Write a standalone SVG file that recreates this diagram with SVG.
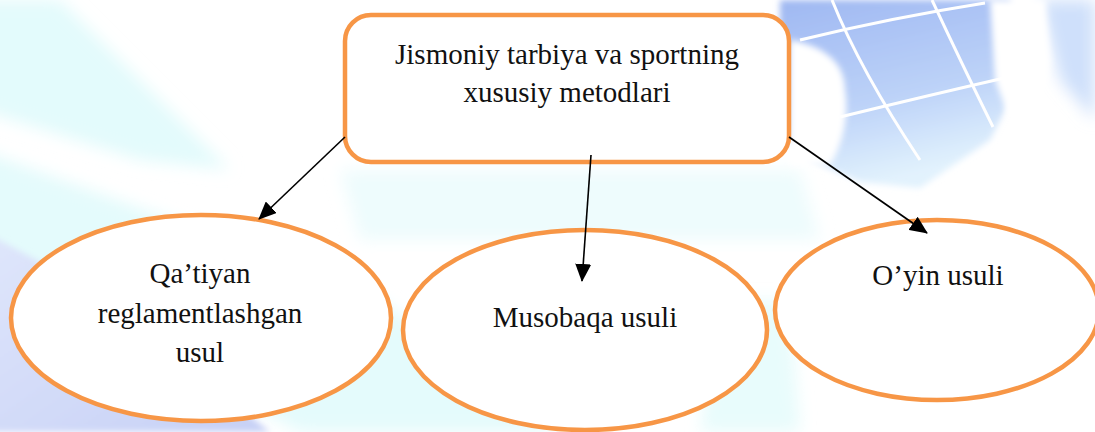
<svg xmlns="http://www.w3.org/2000/svg" width="1095" height="432" viewBox="0 0 1095 432">
<style>
.node{fill:#ffffff;stroke:#f79646;stroke-width:4.5}
.lbl{font-family:"Liberation Serif","Times New Roman","DejaVu Serif",serif;font-size:29px;fill:#111111;text-anchor:middle}
.conn{stroke:#000000;stroke-width:1.6;fill:none;marker-end:url(#arr)}
</style>
<defs>
<marker id="arr" markerUnits="userSpaceOnUse" markerWidth="18" markerHeight="16" viewBox="0 0 18 16" refX="17" refY="8" orient="auto">
<path d="M0,0 L18,8 L0,16 Z" fill="#000000"/>
</marker>
<filter id="blur" x="-20%" y="-20%" width="140%" height="140%"><feGaussianBlur stdDeviation="8"/></filter>
<filter id="blur2" x="-20%" y="-20%" width="140%" height="140%"><feGaussianBlur stdDeviation="3"/></filter>
<linearGradient id="lav" x1="0" y1="0" x2="1" y2="1">
<stop offset="0" stop-color="#dfe6fb"/>
<stop offset="1" stop-color="#c6d0f6"/>
</linearGradient>
<linearGradient id="globe" x1="0" y1="0" x2="0.3" y2="1">
<stop offset="0" stop-color="#9fb8f2"/>
<stop offset="0.6" stop-color="#bcd2f8"/>
<stop offset="1" stop-color="#e2f2fd"/>
</linearGradient>
</defs>
<g id="background">
<rect x="0" y="0" width="1095" height="432" fill="#ffffff"/>
<path d="M-20,0 L60,0 L230,170 L140,160 L-20,110 Z" fill="#e3fbfc" filter="url(#blur)"/>
<path d="M-20,150 L200,230 L380,300 L560,432 L300,432 L-20,260 Z" fill="#e4fbfc" filter="url(#blur)"/>
<path d="M340,170 L800,170 L820,240 L360,240 Z" fill="#eefcfd" filter="url(#blur)"/>
<path d="M-10,235 L110,300 L270,432 L-10,432 Z" fill="url(#lav)" filter="url(#blur2)"/>
<path d="M720,300 L790,300 L800,432 L700,432 Z" fill="#e8fcfc" filter="url(#blur)"/>
<path d="M780,0 L1010,0 L1020,80 L990,140 L920,188 L860,182 L810,160 L780,130 Z" fill="url(#globe)" filter="url(#blur2)"/>
<path d="M1040,0 L1095,0 L1095,120 L1060,80 Z" fill="#cfe0fb" filter="url(#blur)"/>
<path d="M790,40 C820,45 845,60 845,90 C850,120 840,150 830,165 L790,165 Z" fill="#ffffff" filter="url(#blur2)"/>
<path d="M990,0 L1045,0 L1050,60 L1040,110 L1010,120 L995,80 Z" fill="#ffffff" filter="url(#blur2)"/>
<g stroke="#ffffff" stroke-width="3" fill="none">
<path d="M800,40 Q890,18 985,3"/>
<path d="M840,117 Q930,95 1013,76"/>
<path d="M832,0 Q860,70 920,160"/>
<path d="M932,0 Q960,60 993,127"/>
</g>
</g>
<g id="node-main">
<rect class="node" x="345" y="15" width="444" height="147" rx="26" ry="26"/>
<text class="lbl" x="567" y="64">Jismoniy tarbiya va sportning</text>
<text class="lbl" x="567" y="102">xususiy metodlari</text>
</g>
<g id="node-qatiyan">
<ellipse class="node" cx="201" cy="318" rx="190" ry="103"/>
<text class="lbl" x="200" y="283">Qa’tiyan</text>
<text class="lbl" x="200" y="323">reglamentlashgan</text>
<text class="lbl" x="200" y="362">usul</text>
</g>
<g id="node-musobaqa">
<ellipse class="node" cx="585" cy="330" rx="182" ry="100"/>
<text class="lbl" x="585" y="327">Musobaqa usuli</text>
</g>
<g id="node-oyin">
<ellipse class="node" cx="937" cy="310" rx="162" ry="90"/>
<text class="lbl" x="938" y="285">O’yin usuli</text>
</g>
<g id="connectors">
<line class="conn" x1="345" y1="137" x2="259" y2="219"/>
<line class="conn" x1="591" y1="155" x2="582" y2="281"/>
<line class="conn" x1="789" y1="137" x2="927" y2="233"/>
</g>
</svg>
